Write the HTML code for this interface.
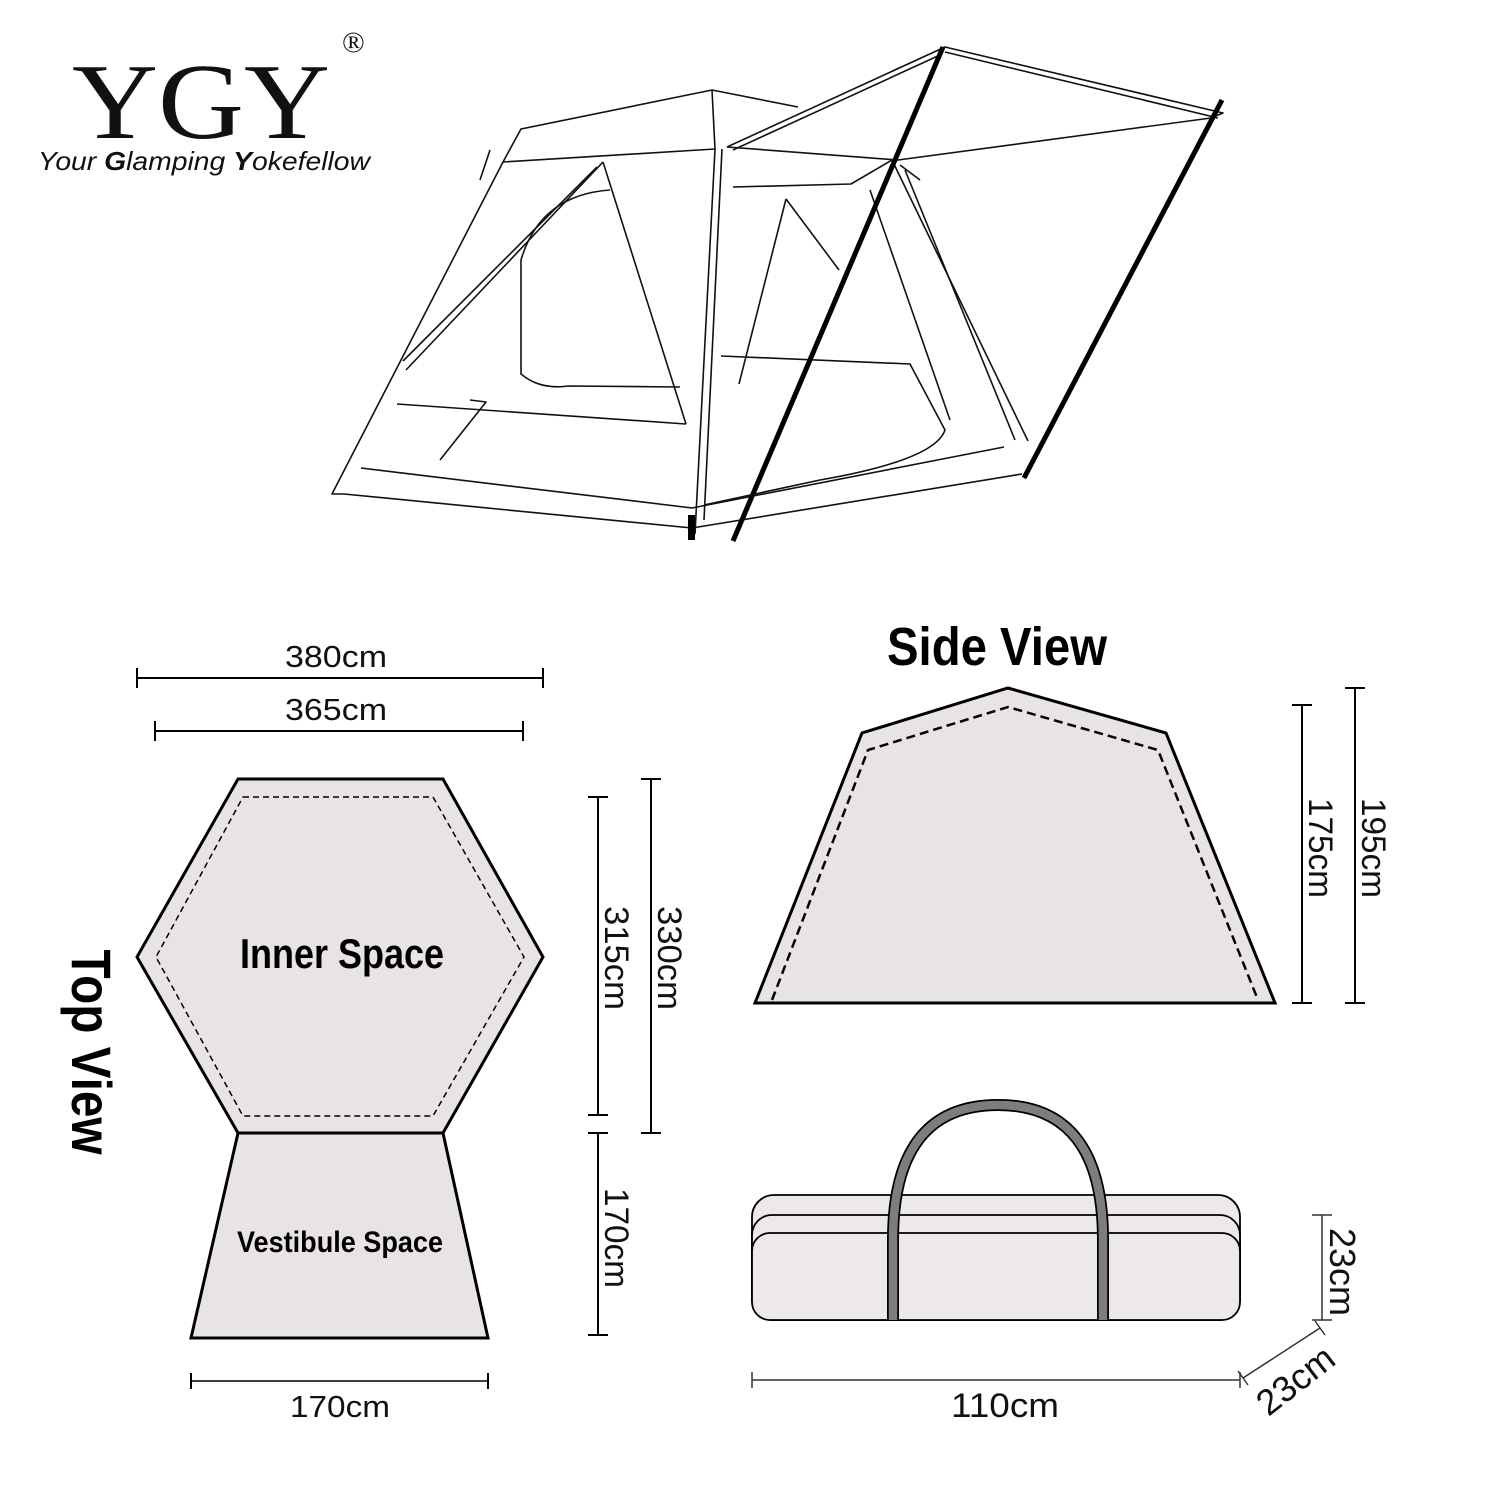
<!DOCTYPE html>
<html><head><meta charset="utf-8"><style>
html,body{margin:0;padding:0;background:#fff;}
svg{display:block;}
text{font-family:"Liberation Sans",sans-serif;}
.b{font-family:"Liberation Sans Narrow","Liberation Sans",sans-serif;font-weight:bold;}
</style></head><body>
<svg width="1500" height="1500" viewBox="0 0 1500 1500" xmlns="http://www.w3.org/2000/svg">
<rect width="1500" height="1500" fill="#fff"/>
<!-- logo -->
<text x="72" y="138" style="font-family:'Liberation Serif',serif" font-size="108" fill="#111" textLength="258" lengthAdjust="spacingAndGlyphs">YGY</text>
<text x="342" y="52" style="font-family:'Liberation Serif',serif" font-size="30" fill="#111">®</text>
<text x="38" y="170" font-size="26" font-style="italic" fill="#111" textLength="332" lengthAdjust="spacingAndGlyphs">Your <tspan font-weight="bold">G</tspan>lamping <tspan font-weight="bold">Y</tspan>okefellow</text>

<!-- tent -->
<g fill="none" stroke="#111" stroke-width="1.6" stroke-linejoin="round">
<path d="M503,162 L521,129 L712,90 L798,107"/>
<path d="M503,162 L715,149 L712,90"/>
<path d="M727,147 L945,47 L1223,113 L1211,118 L898,160 L727,147"/>
<path d="M733,150 L940,55"/>
<path d="M945,52 L1218,118"/>
<path d="M503,162 L332,494 L344,494 L692,528 L1022,474"/>
<path d="M361,468 L692,508 L1004,447"/>
<path d="M397,404 L686,424"/>
<path d="M597,167 L403,361"/>
<path d="M603,162 L406,370"/>
<path d="M603,162 L686,424"/>
<path d="M715,149 L695,534"/>
<path d="M722,149 L704,520"/>
<path d="M610,190 Q540,195 521,260 L521,374 Q540,390 568,386 L680,387"/>
<path d="M733,187 L851,184 L892,160"/>
<path d="M721,356 L910,364 L945,430 Q935,460 820,480 L704,505"/>
<path d="M786,199 L739,384"/>
<path d="M786,199 L839,270"/>
<path d="M892,160 L1028,441"/>
<path d="M905,170 L1015,440"/>
<path d="M870,190 L950,420"/>
<path d="M480,180 L490,150"/>
<path d="M900,165 L920,180"/>
<path d="M470,400 L486,402 L440,460"/>
</g>
<line x1="943" y1="47" x2="733" y2="541" stroke="#000" stroke-width="5"/>
<line x1="1222" y1="100" x2="1024" y2="478" stroke="#000" stroke-width="5"/>
<rect x="688" y="515" width="7" height="25" fill="#000"/>

<!-- top view -->
<polygon points="238,779 443,779 543,957 443,1133 238,1133 137,957" fill="#e8e4e3" stroke="#000" stroke-width="3"/>
<polygon points="243,797 433,797 524,957 433,1116 243,1116 156,957" fill="none" stroke="#000" stroke-width="1.5" stroke-dasharray="6,4"/>
<polygon points="238,1133 443,1133 488,1338 191,1338" fill="#e8e4e3" stroke="#000" stroke-width="3"/>
<text class="b" x="342" y="968" font-size="42" text-anchor="middle" fill="#000" textLength="204" lengthAdjust="spacingAndGlyphs">Inner Space</text>
<text class="b" x="340" y="1252" font-size="30" text-anchor="middle" fill="#000" textLength="206" lengthAdjust="spacingAndGlyphs">Vestibule Space</text>
<text class="b" transform="translate(72,1052) rotate(90)" font-size="56" text-anchor="middle" fill="#000" textLength="205" lengthAdjust="spacingAndGlyphs">Top View</text>

<g stroke="#000" stroke-width="2">
<line x1="137" y1="678" x2="543" y2="678"/><line x1="137" y1="668" x2="137" y2="688"/><line x1="543" y1="668" x2="543" y2="688"/>
<line x1="155" y1="731" x2="523" y2="731"/><line x1="155" y1="721" x2="155" y2="741"/><line x1="523" y1="721" x2="523" y2="741"/>
<line x1="598" y1="797" x2="598" y2="1115"/><line x1="588" y1="797" x2="608" y2="797"/><line x1="588" y1="1115" x2="608" y2="1115"/>
<line x1="651" y1="779" x2="651" y2="1133"/><line x1="641" y1="779" x2="661" y2="779"/><line x1="641" y1="1133" x2="661" y2="1133"/>
<line x1="598" y1="1133" x2="598" y2="1335"/><line x1="588" y1="1133" x2="608" y2="1133"/><line x1="588" y1="1335" x2="608" y2="1335"/>
<line x1="191" y1="1381" x2="488" y2="1381" stroke-width="1.5"/><line x1="191" y1="1373" x2="191" y2="1389"/><line x1="488" y1="1373" x2="488" y2="1389"/>
<line x1="1302" y1="705" x2="1302" y2="1003"/><line x1="1292" y1="705" x2="1312" y2="705"/><line x1="1292" y1="1003" x2="1312" y2="1003"/>
<line x1="1355" y1="688" x2="1355" y2="1003"/><line x1="1345" y1="688" x2="1365" y2="688"/><line x1="1345" y1="1003" x2="1365" y2="1003"/>
</g>
<g font-size="31" fill="#111">
<text x="336" y="667" text-anchor="middle" textLength="102" lengthAdjust="spacingAndGlyphs">380cm</text>
<text x="336" y="720" text-anchor="middle" textLength="102" lengthAdjust="spacingAndGlyphs">365cm</text>
<text x="340" y="1417" text-anchor="middle" textLength="100" lengthAdjust="spacingAndGlyphs">170cm</text>
<text transform="translate(605,958) rotate(90)" text-anchor="middle" font-size="34" textLength="104" lengthAdjust="spacingAndGlyphs">315cm</text>
<text transform="translate(658,958) rotate(90)" text-anchor="middle" font-size="34" textLength="104" lengthAdjust="spacingAndGlyphs">330cm</text>
<text transform="translate(605,1238) rotate(90)" text-anchor="middle" font-size="34" textLength="100" lengthAdjust="spacingAndGlyphs">170cm</text>
<text transform="translate(1309,848) rotate(90)" text-anchor="middle" font-size="34" textLength="100" lengthAdjust="spacingAndGlyphs">175cm</text>
<text transform="translate(1362,848) rotate(90)" text-anchor="middle" font-size="34" textLength="100" lengthAdjust="spacingAndGlyphs">195cm</text>
<text transform="translate(1330,1272) rotate(90)" text-anchor="middle" font-size="36" textLength="88" lengthAdjust="spacingAndGlyphs">23cm</text>
<text x="1005" y="1417" text-anchor="middle" font-size="34" textLength="108" lengthAdjust="spacingAndGlyphs">110cm</text>
<text transform="translate(1303,1390) rotate(-38)" text-anchor="middle" font-size="36" textLength="88" lengthAdjust="spacingAndGlyphs">23cm</text>
</g>

<!-- side view -->
<text class="b" x="997" y="665" font-size="54" text-anchor="middle" fill="#000" textLength="220" lengthAdjust="spacingAndGlyphs">Side View</text>
<polygon points="755,1003 862,733 1008,688 1166,733 1275,1003" fill="#e8e4e3" stroke="#000" stroke-width="3"/>
<polyline points="772,1000 868,750 1008,707 1158,750 1258,1000" fill="none" stroke="#000" stroke-width="2.5" stroke-dasharray="9,5"/>

<!-- bag -->
<g stroke="#000" stroke-width="1.8" fill="#ece9e8">
<rect x="752" y="1195" width="488" height="125" rx="22"/>
<rect x="752" y="1215" width="488" height="105" rx="20"/>
<rect x="752" y="1233" width="488" height="87" rx="18"/>
</g>
<path d="M893,1320 L893,1240 Q893,1105 998,1105 Q1103,1105 1103,1240 L1103,1320" fill="none" stroke="#000" stroke-width="12"/>
<path d="M893,1320 L893,1240 Q893,1105 998,1105 Q1103,1105 1103,1240 L1103,1320" fill="none" stroke="#7d7d7d" stroke-width="8.5"/>
<g stroke="#333" stroke-width="1.5">
<line x1="1322" y1="1215" x2="1322" y2="1320"/><line x1="1312" y1="1215" x2="1332" y2="1215"/><line x1="1312" y1="1320" x2="1332" y2="1320"/>
<line x1="752" y1="1380" x2="1240" y2="1380"/><line x1="752" y1="1372" x2="752" y2="1388"/><line x1="1240" y1="1372" x2="1240" y2="1388"/>
<line x1="1243" y1="1378" x2="1320" y2="1328"/><line x1="1238" y1="1371" x2="1248" y2="1385"/><line x1="1315" y1="1321" x2="1325" y2="1335"/>
</g>
</svg>
</body></html>
